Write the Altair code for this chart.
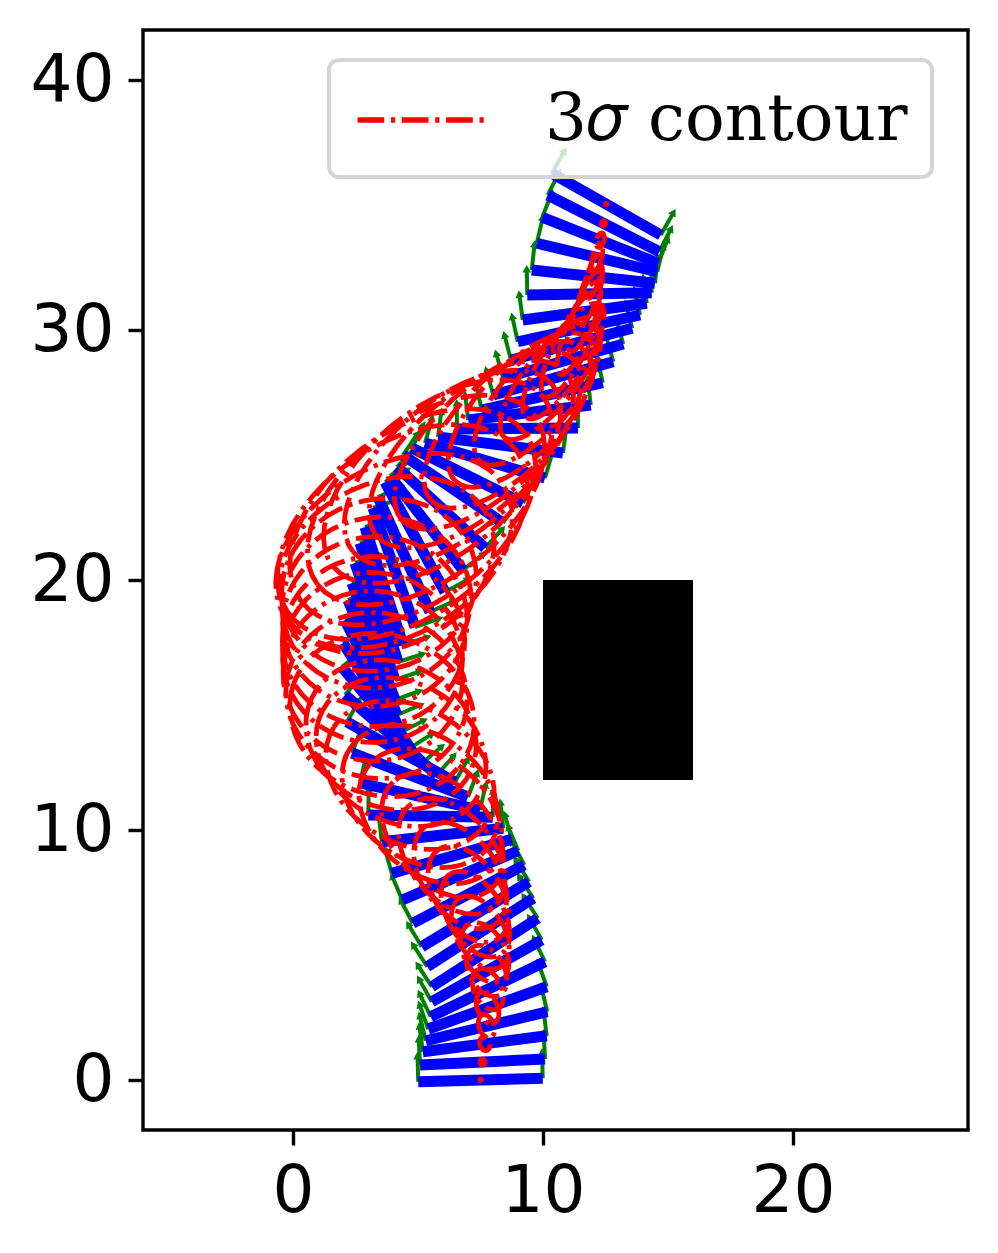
import math
import altair as alt
import pandas as pd

# Blue axle bars: left and right end of each pose (bottom to top)
left_x = [5.01,5.08,5.19,5.31,5.41,5.51,5.55,5.55,5.37,5.15,4.79,4.37,3.95,3.55,3.01,2.68,2.36,2.16,2.08,1.96,2.00,2.08,2.20,2.36,2.48,2.68,2.88,3.20,3.40,3.68,3.88,4.16,4.40,4.76,5.28,5.80,6.56,7.01,7.55,8.01,8.41,8.72,8.99,9.19,9.37,9.55,9.75,9.97,10.19,10.35]
left_y = [-0.07,0.60,1.13,1.57,2.04,2.53,3.13,3.73,4.53,5.33,6.27,7.20,8.27,9.53,10.60,11.88,13.08,14.32,15.40,16.52,17.48,18.40,19.20,19.88,20.68,21.48,22.12,22.88,23.32,23.92,24.16,24.52,25.00,25.28,25.48,25.72,26.04,26.40,26.80,27.40,28.07,28.80,29.53,30.40,31.40,32.40,33.47,34.51,35.40,36.27]
right_x = [9.99,10.08,10.15,10.17,10.15,10.08,9.95,9.79,9.61,9.44,9.25,9.01,8.75,8.41,7.99,7.48,7.00,6.48,5.76,5.16,4.68,4.32,4.16,4.08,4.08,4.20,4.40,4.88,5.48,6.08,6.80,7.68,8.40,9.20,10.08,10.80,11.40,11.91,12.39,12.81,13.21,13.57,13.88,14.15,14.35,14.48,14.57,14.61,14.65,14.71]
right_y = [0.07,0.84,1.77,2.73,3.73,4.73,5.60,6.47,7.27,7.93,8.60,9.17,9.63,10.07,10.51,10.80,11.32,11.92,12.20,12.68,13.28,13.92,14.60,15.20,16.00,16.72,17.40,18.12,18.72,19.52,20.40,21.28,22.28,23.08,24.08,25.08,26.08,27.00,27.89,28.73,29.44,30.07,30.60,31.07,31.49,31.87,32.33,32.67,33.13,33.80]

# Estimated size, tilt and centre offset of each 3-sigma contour (one per pose)
semi_major = [0.03,0.12,0.28,0.48,0.68,0.88,1.10,1.30,1.60,1.90,2.15,2.40,2.65,2.90,3.20,3.40,3.60,3.55,3.50,3.75,3.65,3.60,3.60,3.65,3.70,3.80,3.95,4.50,5.10,5.60,5.60,5.50,5.40,5.20,5.00,4.70,4.30,3.90,3.50,3.00,2.70,2.35,2.00,1.70,1.30,0.90,0.60,0.30,0.10,0.03]
semi_minor = [0.03,0.10,0.20,0.30,0.40,0.55,0.70,0.82,0.95,1.10,1.30,1.50,1.70,1.95,2.30,2.50,2.70,2.80,2.90,3.20,3.30,3.40,3.40,3.40,3.40,3.40,3.40,3.30,3.40,3.50,3.40,3.15,2.90,2.65,2.40,2.15,1.95,1.75,1.40,1.05,0.85,0.65,0.48,0.42,0.35,0.25,0.18,0.15,0.08,0.03]
tilt_deg = [95,100,105,110,113,116,118,120,121,122,124,126,129,133,140,144,148,152,156,160,165,170,175,181,188,194,199,205,210,215,217,218,219,220,221,223,225,227,229,232,237,243,248,250,252,255,255,255,255,255]
center_dx = [0,0,0,0,0,0,0,0,0,0,0,0,0,0,0,0,0,0,0,0,0,0,0,0,0,-0.1,-0.2,-0.3,-0.4,-0.5,-0.55,-0.6,-0.6,-0.6,-0.55,-0.5,-0.4,-0.3,-0.2,-0.1,0,0,0,0,0,0,0,0,0,0]
center_dy = [0,0,0,0,0,0,0,0,0,0,0,0,0,0,0,0,0,0,0,0,0,0,0,0,0,0,0.05,0.1,0.15,0.2,0.25,0.3,0.3,0.3,0.25,0.2,0.15,0.1,0.05,0,0,0,0,0,0,0,0,0,0,0]

ARROW_LEN = 1.05
CONTOUR_STEPS = 48
LEGEND_LABEL = "3\U0001D70E contour"
OBSTACLE = {"x": [10], "x2": [16], "y": [12], "y2": [20]}
X_TICKS = [0, 10, 20]
Y_TICKS = [0, 10, 20, 30, 40]
DASH = [26.7, 6.7, 4.2, 6.7]

bars = pd.DataFrame({"x": left_x, "y": left_y, "x2": right_x, "y2": right_y})

arrows = []
for lx, ly, rx, ry in zip(left_x, left_y, right_x, right_y):
    n = math.hypot(rx - lx, ry - ly)
    ux, uy = -(ry - ly) / n, (rx - lx) / n
    for px, py in ((lx, ly), (rx, ry)):
        arrows.append({"x": px, "y": py, "x2": px + ARROW_LEN * ux, "y2": py + ARROW_LEN * uy,
                       "angle": math.degrees(math.atan2(ux, uy)) % 360})
arrows = pd.DataFrame(arrows)

rows = []
for i in range(len(left_x)):
    cx = (left_x[i] + right_x[i]) / 2 + center_dx[i]
    cy = (left_y[i] + right_y[i]) / 2 + center_dy[i]
    t = math.radians(tilt_deg[i])
    for k in range(CONTOUR_STEPS + 1):
        s = 2 * math.pi * k / CONTOUR_STEPS
        ex, ey = semi_major[i] * math.cos(s), semi_minor[i] * math.sin(s)
        rows.append({"cid": i, "k": k, "name": LEGEND_LABEL,
                     "x": cx + ex * math.cos(t) - ey * math.sin(t),
                     "y": cy + ex * math.sin(t) + ey * math.cos(t)})
contours = pd.DataFrame(rows)

xs = alt.Scale(domain=[-6, 27], nice=False, zero=False)
ys = alt.Scale(domain=[-2, 42], nice=False, zero=False)
X = alt.X("x:Q", scale=xs, title=None, axis=alt.Axis(values=X_TICKS, format="d", grid=False, domain=False))
Y = alt.Y("y:Q", scale=ys, title=None, axis=alt.Axis(values=Y_TICKS, format="d", grid=False, domain=False))

shafts = alt.Chart(arrows).mark_rule(color="green", strokeWidth=4).encode(X, Y, x2="x2:Q", y2="y2:Q")
heads = alt.Chart(arrows).mark_point(shape="triangle-up", filled=True, color="green", opacity=1, size=75).encode(
    alt.X("x2:Q", scale=xs, title=None), alt.Y("y2:Q", scale=ys, title=None),
    angle=alt.Angle("angle:Q", scale=None))
blue = alt.Chart(bars).mark_rule(color="#0000ff", strokeWidth=11).encode(X, Y, x2="x2:Q", y2="y2:Q")
red = alt.Chart(contours).mark_line(strokeWidth=4.8, strokeDash=DASH, interpolate="linear").encode(
    X, Y, detail="cid:N", order="k:Q",
    color=alt.Color("name:N", scale=alt.Scale(domain=[LEGEND_LABEL], range=["#ff0000"]),
        legend=alt.Legend(title=None, orient="none", legendX=186, legendY=30, zindex=1,
                          fillColor="rgba(255,255,255,0.8)", strokeColor="#d5d5d5", cornerRadius=10,
                          padding=24, symbolType="M-2,0L2,0", symbolSize=4422, symbolStrokeWidth=5.5,
                          symbolFillColor="transparent", symbolOffset=35,
                          symbolDash=DASH, labelFont="DejaVu Serif", labelFontSize=66, labelLimit=600,
                          labelOffset=85, labelColor="black")))
obstacle = alt.Chart(pd.DataFrame(OBSTACLE)).mark_rect(color="black").encode(
    alt.X("x:Q", scale=xs, title=None), alt.X2("x2:Q"), alt.Y("y:Q", scale=ys, title=None), alt.Y2("y2:Q"))

chart = (alt.layer(shafts, heads, blue, red, obstacle)
    .properties(width=825, height=1100, background="white",
                autosize=alt.AutoSizeParams(type="none"),
                padding={"left": 135, "top": 22, "right": 22, "bottom": 115})
    .configure_view(stroke="black", strokeWidth=3.4)
    .configure_axis(labelFont="DejaVu Sans", labelFontSize=66, labelColor="black", tickColor="black",
                    tickSize=15, tickWidth=3.4, labelPadding=14)
    .configure_legend(strokeWidth=4))

chart.save("out.html", embed_options={"renderer": "svg", "actions": False})
